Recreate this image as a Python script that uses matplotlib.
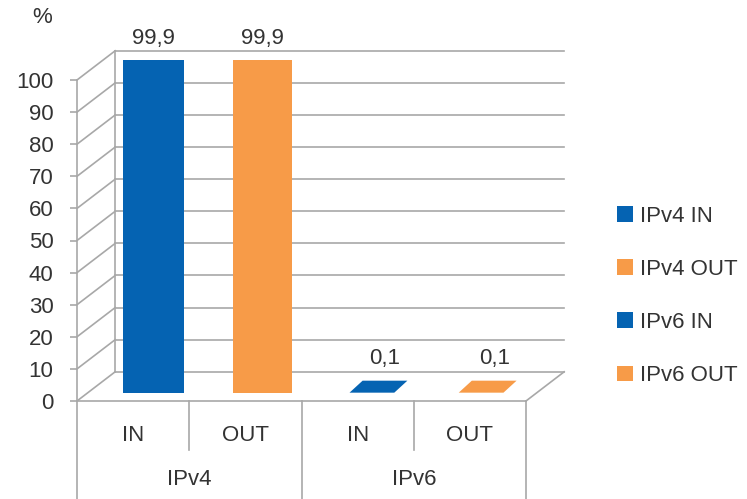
import matplotlib.pyplot as plt
from matplotlib.patches import Polygon

plt.rcParams["font.family"] = ["Liberation Sans", "DejaVu Sans"]

SERIES = ["IPv4 IN", "IPv4 OUT", "IPv6 IN", "IPv6 OUT"]
DIRECTIONS = ["IN", "OUT", "IN", "OUT"]
PROTOCOLS = ["IPv4", "IPv6"]
SHARES = [99.9, 99.9, 0.1, 0.1]
Y_TICKS = list(range(0, 101, 10))

BLUE = "#0563B2"
ORANGE = "#F79B48"
COLORS = [BLUE, ORANGE, BLUE, ORANGE]
GRID = "#A8A8A8"
TEXT = "#333333"

# fake 3d box: offset of the back wall in front-face data units
DEPTH_X = 0.34
DEPTH_Y = 9.1
BAR_WIDTHS = [0.56, 0.54, 0.41, 0.41]
TOP_DEPTH_X = 0.12
TOP_DEPTH_Y = 3.6


def fmt(value):
    return f"{value:.1f}".replace(".", ",")


def draw_box(ax):
    n = len(DIRECTIONS)
    line = dict(color=GRID, lw=1.2, clip_on=False, zorder=1)
    for t in Y_TICKS:
        ax.plot([DEPTH_X, n + DEPTH_X], [t + DEPTH_Y, t + DEPTH_Y], **line)
        ax.plot([0, DEPTH_X], [t, t + DEPTH_Y], **line)
    ax.plot([DEPTH_X, DEPTH_X], [DEPTH_Y, Y_TICKS[-1] + DEPTH_Y], **line)
    # floor
    ax.plot([0, n], [0, 0], **line)
    ax.plot([n, n + DEPTH_X], [0, DEPTH_Y], **line)
    # category separators below the floor
    for i in range(n + 1):
        low = -31 if i % 2 == 0 else -15.3
        ax.plot([i, i], [0, low], **line)


def main():
    fig = plt.figure(figsize=(7.47, 4.99), dpi=100)

    ax = fig.add_axes([77 / 747, 98 / 499, 449 / 747, 321 / 499])
    ax.set_xlim(0, len(DIRECTIONS))
    ax.set_ylim(0, 100)
    ax.set_xticks([])
    ax.set_yticks(Y_TICKS)
    ax.tick_params(axis="y", length=5, width=1.2, color=GRID, pad=12,
                   labelsize=16, labelcolor=TEXT)
    for side in ("top", "right", "bottom"):
        ax.spines[side].set_visible(False)
    ax.spines["left"].set_color(GRID)
    ax.spines["left"].set_linewidth(1.2)
    draw_box(ax)

    for i, name in enumerate(DIRECTIONS):
        ax.text(i + 0.5, -10.6, name, ha="center", va="center",
                fontsize=16, color=TEXT, clip_on=False)
    for j, name in enumerate(PROTOCOLS):
        ax.text(1 + 2 * j, -24.6, name, ha="center", va="center",
                fontsize=16, color=TEXT, clip_on=False)
    ax.text(-0.31, 119.6, "%", ha="center", va="center", fontsize=16,
            color=TEXT, clip_on=False)

    # bars live in their own plane, a bit behind the front face
    bx = fig.add_axes([98.9 / 747, 106 / 499, 436.8 / 747, 333.3 / 499])
    bx.set_xlim(-0.5, len(SHARES) - 0.5)
    bx.set_ylim(0, 100)
    bx.axis("off")

    for i, value in enumerate(SHARES):
        w = BAR_WIDTHS[i]
        bx.bar(i, value, width=w, color=COLORS[i], label=SERIES[i], zorder=3)
        f = 1 - value / 100
        dx = TOP_DEPTH_X * f
        dy = TOP_DEPTH_Y * f
        top = [(i - w / 2, value), (i + w / 2, value),
               (i + w / 2 + dx, value + dy), (i - w / 2 + dx, value + dy)]
        bx.add_patch(Polygon(top, closed=True, facecolor=COLORS[i], lw=0,
                             clip_on=False, zorder=3))
        bx.text(i + dx, value + dy + 6.6, fmt(value), ha="center", va="center",
                fontsize=16, color=TEXT, clip_on=False)

    handles, labels = bx.get_legend_handles_labels()
    fig.legend(handles, labels, loc="center left",
               bbox_to_anchor=(617 / 747, 1 - 296 / 499), frameon=False,
               fontsize=16, labelcolor=TEXT, handlelength=0.72,
               handleheight=0.72, handletextpad=0.3, labelspacing=1.45,
               borderpad=0, borderaxespad=0)

    fig.savefig("out.png", dpi=100)


if __name__ == "__main__":
    main()
